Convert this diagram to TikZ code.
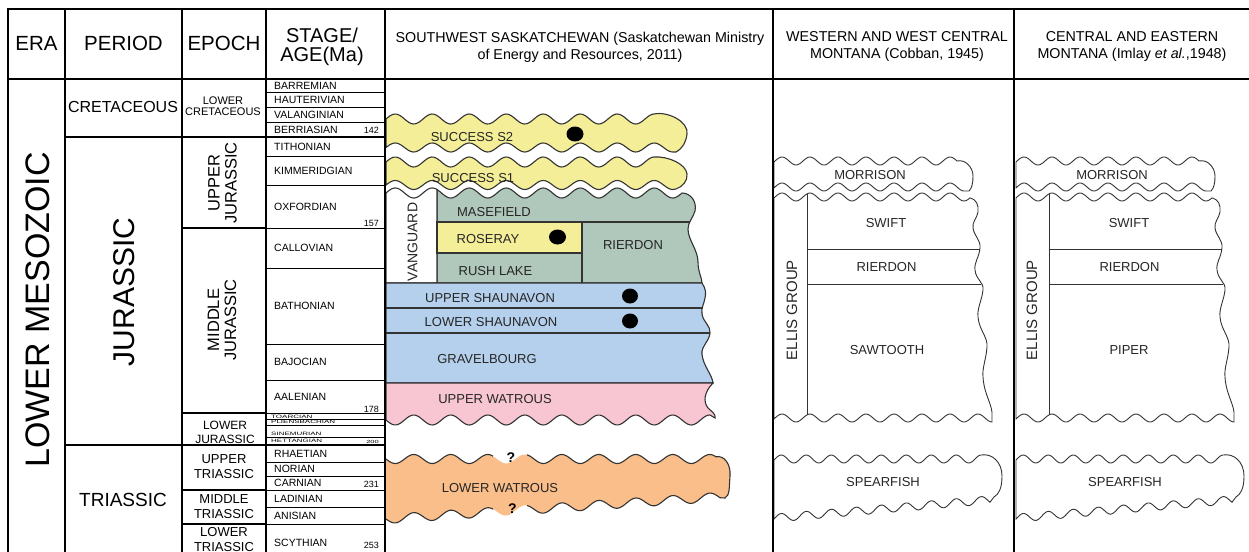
\documentclass[tikz,border=0pt]{standalone}
\usepackage{fontspec}
\setmainfont{Liberation Sans}
\definecolor{sucyel}{RGB}{244,238,152}
\definecolor{grn}{RGB}{176,199,187}
\definecolor{blu}{RGB}{181,208,236}
\definecolor{pnk}{RGB}{248,198,210}
\definecolor{org}{RGB}{250,190,138}

\begin{document}
\begin{tikzpicture}[x=1pt,y=-1pt,samples=160,
        declare function={sw(\u)=sin(9.72973*(\u-386)); mt(\u)=sin(12.857143*(\u-775)); sp(\u)=sin(14.4*(\u-775));},
        frame/.style={line width=2.6pt},
        band/.style={draw=black!80, line width=1.1pt},
        mband/.style={draw=black!80, fill=white, line width=0.9pt},
        hd/.style={font=\fontsize{20.5}{22}\selectfont, inner sep=0pt},
        src/.style={font=\fontsize{14.3}{17}\selectfont, align=center, inner sep=0pt},
        stg/.style={font=\fontsize{10.5}{11}\selectfont, anchor=west, inner sep=0pt},
        tiny/.style={font=\fontsize{8}{8}\selectfont, anchor=west, inner sep=0pt},
        age/.style={font=\fontsize{9}{9}\selectfont, anchor=base east, inner sep=0pt},
        ep/.style={align=center, inner sep=0pt},
        fm/.style={font=\fontsize{13}{13}\selectfont, inner sep=0pt, text=black!85},
        qm/.style={font=\fontsize{14}{14}\selectfont\bfseries, inner sep=0pt}]
        \useasboundingbox (0,0) rectangle (1249,551);

        % stages
        \foreach \t/\b/\n in {79/92/BARREMIAN, 92/107/HAUTERIVIAN, 107/122/VALANGINIAN,
                122/137/BERRIASIAN, 137/156/TITHONIAN, 156/185/KIMMERIDGIAN, 185/228/OXFORDIAN,
                228/268/CALLOVIAN, 268/344/BATHONIAN, 344/380/BAJOCIAN, 380/413/AALENIAN,
                445/462/RHAETIAN, 462/476/NORIAN, 476/490/CARNIAN, 490/507/LADINIAN,
                507/524/ANISIAN, 524/562/SCYTHIAN}{
            \draw[line width=0.9pt] (266,\t) rectangle (385,\b);
            \node[stg] (st\n) at (274,{(\t+\b)/2}) {\n};
        }
        \draw[line width=0.9pt] (266,413) rectangle (385,419.5);
        \draw[line width=0.9pt] (266,419.5) rectangle (385,425);
        \draw[line width=0.9pt] (266,425) rectangle (385,437);
        \draw[line width=0.9pt] (266,437) rectangle (385,445);
        \node[tiny] (stToarcian) at (271,416.5) {\scalebox{1}[0.6]{TOARCIAN}};
        \node[tiny] (stPliens) at (271,422.3) {\scalebox{1}[0.6]{PLIENSBACHIAN}};
        \node[tiny] (stSinem) at (271,433.8) {\scalebox{1}[0.6]{SINEMURIAN}};
        \node[tiny] (stHett) at (271,441) {\scalebox{1}[0.6]{HETTANGIAN}};
        \node[age] (a142) at (379,133.5) {142};
        \node[age] (a157) at (379,226) {157};
        \node[age] (a178) at (379,412) {178};
        \node[age, font=\fontsize{7.5}{7.5}\selectfont] (a200) at (379,443.5) {\scalebox{1}[0.6]{200}};
        \node[age] (a231) at (379,487.5) {231};
        \node[age] (a253) at (379,548) {253};

        % southwest saskatchewan
        \filldraw[band, fill=sucyel] plot[domain=386:654] (\x,{119-5*sw(\x)})
            .. controls (668,111) and (689,122) .. (687,134)
            .. controls (686,142) and (683,148) .. (676,152)
            -- plot[domain=673:386] (\x,{147.5-4.5*sw(\x)}) -- cycle;
        \filldraw[band, fill=sucyel] plot[domain=386:654] (\x,{162-5*sw(\x)})
            .. controls (668,156) and (686,164) .. (687,174)
            .. controls (688,181) and (682,187) .. (676,189)
            -- plot[domain=673:386] (\x,{185-4.5*sw(\x)}) -- cycle;
        \filldraw[band, fill=grn] plot[domain=437:682] (\x,{193-5*sw(\x)})
            .. controls (691,193) and (697,202) .. (695,211)
            .. controls (693,218) and (688,222) .. (688,229)
            .. controls (688,240) and (698,250) .. (698,262)
            .. controls (698,272) and (702,278) .. (702,283)
            -- (437,283) -- cycle;
        \filldraw[band, fill=white] plot[domain=386:437] (\x,{193-5*sw(\x)}) -- (437,283) -- (386,283) -- cycle;
        \filldraw[band, fill=sucyel] (437,222) rectangle (582,253);
        \draw[band] (437,222) -- (690,222);
        \draw[band] (582,222) -- (582,283);
        \filldraw[band, fill=blu] (386,283) -- (702,283)
            .. controls (706,289) and (706,293) .. (705,298)
            .. controls (704,304) and (701,308) .. (702,314)
            .. controls (703,322) and (711,326) .. (710,333)
            .. controls (709,342) and (701,346) .. (702,354)
            .. controls (703,366) and (712,374) .. (713,383) -- (386,383) -- cycle;
        \draw[band] (386,308) -- (702,308);
        \draw[band] (386,333) -- (710,333);
        \filldraw[band, fill=pnk] (386,383) -- (713,383)
            .. controls (704,392) and (703,402) .. (708,408)
            .. controls (712,412) and (716,414) .. (715,418)
            -- plot[domain=710:386] (\x,{420+5*sw(\x)}) -- cycle;
        \fill[org] plot[domain=386:716] (\x,{459+4.5*sw(\x)})
            .. controls (724,455) and (731,464) .. (730,476)
            .. controls (729,488) and (730,495) .. (725,498)
            -- plot[domain=720:386] (\x,{519-0.066*(\x-386)+4.5*sw(\x)}) -- cycle;
        \draw[band] plot[domain=386:493] (\x,{459+4.5*sw(\x)});
        \draw[band] plot[domain=527:716] (\x,{459+4.5*sw(\x)})
            .. controls (724,455) and (731,464) .. (730,476)
            .. controls (729,488) and (730,495) .. (725,498)
            -- plot[domain=720:527] (\x,{519-0.066*(\x-386)+4.5*sw(\x)});
        \draw[band] plot[domain=493:386] (\x,{519-0.066*(\x-386)+4.5*sw(\x)});
        \fill (575,134) ellipse [x radius=8.5pt, y radius=7.5pt];
        \fill (557.5,237) ellipse [x radius=8.5pt, y radius=7.5pt];
        \fill (630,296) ellipse [x radius=8pt, y radius=7.5pt];
        \fill (630,321) ellipse [x radius=8pt, y radius=7.5pt];
        \node[fm] (lS2) at (472,137) {SUCCESS S2};
        \node[fm] (lS1) at (473,178) {SUCCESS S1};
        \node[fm, rotate=90, font=\fontsize{14}{14}\selectfont] (lVang) at (412.5,242) {VANGUARD};
        \node[fm] (lMas) at (494,212) {MASEFIELD};
        \node[fm] (lRos) at (488,239) {ROSERAY};
        \node[fm] (lRush) at (495.5,271) {RUSH LAKE};
        \node[fm] (lRier) at (633,245) {RIERDON};
        \node[fm] (lUS) at (490,298) {UPPER SHAUNAVON};
        \node[fm] (lLS) at (491,322) {LOWER SHAUNAVON};
        \node[fm] (lGrav) at (487,359) {GRAVELBOURG};
        \node[fm] (lUW) at (495,399) {UPPER WATROUS};
        \node[fm] (lLW) at (500,488) {LOWER WATROUS};
        \node[qm] (q1) at (511,457.5) {?};
        \node[qm] (q2) at (512.5,509) {?};

        % western and west central montana
        \begin{scope}
            \filldraw[mband] plot[domain=774:957] (\x,{161-4*mt(\x)})
                .. controls (966,159) and (973,168) .. (973,176)
                .. controls (973,183) and (972,188) .. (969,191)
                -- plot[domain=964:774] (\x,{187-4*mt(\x)}) -- cycle;
            \filldraw[mband] plot[domain=774:970] (\x,{197-4*mt(\x)})
                .. controls (976,199) and (979,205) .. (978,212)
                .. controls (977,218) and (972,222) .. (973,228)
                .. controls (974,236) and (981,240) .. (980,248)
                .. controls (979,258) and (974,262) .. (975,270)
                .. controls (976,280) and (984,282) .. (983,290)
                .. controls (982,300) and (977,308) .. (978,317)
                .. controls (979,330) and (988,337) .. (987,347)
                .. controls (986,360) and (982,368) .. (983,377)
                .. controls (984,395) and (993,405) .. (992,416)
                -- plot[domain=992:774] (\x,{418-4*mt(\x)}) -- cycle;
            \draw[mband] (807,194) -- (807,415);
            \draw[mband] (807,249) -- (980,249);
            \draw[mband] (807,284) -- (981,284);
            \filldraw[mband] plot[domain=774:981] (\x,{459-4*sp(\x)})
                .. controls (992,453) and (1002,462) .. (1002,476)
                .. controls (1002,488) and (999,494) .. (994,497)
                -- plot[domain=990:774] (\x,{518-0.0844*(\x-775)-4*sp(\x)}) -- cycle;
            \node[fm] (wMor) at (870,175) {MORRISON};
            \node[fm, rotate=90, font=\fontsize{15}{15}\selectfont] (wEllis) at (792,310) {ELLIS GROUP};
            \node[fm] (wSwift) at (886,223) {SWIFT};
            \node[fm] (wRier) at (886.5,267) {RIERDON};
            \node[fm] (wSaw) at (887,350) {SAWTOOTH};
            \node[fm] (wSpear) at (883,482) {SPEARFISH};
        \end{scope}

        % central and eastern montana
        \begin{scope}[xshift=242pt]
            \filldraw[mband] plot[domain=774:957] (\x,{161-4*mt(\x)})
                .. controls (966,159) and (973,168) .. (973,176)
                .. controls (973,183) and (972,188) .. (969,191)
                -- plot[domain=964:774] (\x,{187-4*mt(\x)}) -- cycle;
            \filldraw[mband] plot[domain=774:970] (\x,{197-4*mt(\x)})
                .. controls (976,199) and (979,205) .. (978,212)
                .. controls (977,218) and (972,222) .. (973,228)
                .. controls (974,236) and (981,240) .. (980,248)
                .. controls (979,258) and (974,262) .. (975,270)
                .. controls (976,280) and (984,282) .. (983,290)
                .. controls (982,300) and (977,308) .. (978,317)
                .. controls (979,330) and (988,337) .. (987,347)
                .. controls (986,360) and (982,368) .. (983,377)
                .. controls (984,395) and (993,405) .. (992,416)
                -- plot[domain=992:774] (\x,{418-4*mt(\x)}) -- cycle;
            \draw[mband] (807,194) -- (807,415);
            \draw[mband] (807,249) -- (980,249);
            \draw[mband] (807,284) -- (981,284);
            \filldraw[mband] plot[domain=774:981] (\x,{459-4*sp(\x)})
                .. controls (992,453) and (1002,462) .. (1002,476)
                .. controls (1002,488) and (999,494) .. (994,497)
                -- plot[domain=990:774] (\x,{518-0.0844*(\x-775)-4*sp(\x)}) -- cycle;
            \node[fm] (cMor) at (870,175) {MORRISON};
            \node[fm, rotate=90, font=\fontsize{15}{15}\selectfont] (cEllis) at (790,310) {ELLIS GROUP};
            \node[fm] (cSwift) at (887,223) {SWIFT};
            \node[fm] (cRier) at (887.5,267) {RIERDON};
            \node[fm] (cPiper) at (887,350) {PIPER};
            \node[fm] (cSpear) at (883,482) {SPEARFISH};
        \end{scope}

        % table frame
        \draw[line width=2pt] (65,137) -- (385,137);
        \draw[line width=2pt] (65,445) -- (385,445);
        \draw[line width=1.2pt] (182,228) -- (266,228);
        \draw[line width=1.2pt] (182,413) -- (266,413);
        \draw[line width=1.2pt] (182,490) -- (266,490);
        \draw[line width=1.2pt] (182,524) -- (266,524);
        \draw[frame] (6.7,9) -- (1255,9);
        \draw[frame] (8,79) -- (1255,79);
        \draw[frame] (8,9) -- (8,560);
        \draw[line width=1.8pt] (65,9) -- (65,560);
        \draw[line width=1.8pt] (182,9) -- (182,560);
        \draw[line width=1.8pt] (266,9) -- (266,560);
        \draw[frame] (385,9) -- (385,560);
        \draw[frame] (773,9) -- (773,560);
        \draw[frame] (1014,9) -- (1014,560);

        % headers
        \node[hd] (hEra) at (36.5,43) {ERA};
        \node[hd] (hPer) at (123.5,43) {PERIOD};
        \node[hd] (hEp) at (224,43) {EPOCH};
        \node[hd, align=center, font=\fontsize{20}{19.5}\selectfont] (hStage) at (322,47) {STAGE/\\AGE(Ma)};
        \node[src] (hSW) at (580,47) {SOUTHWEST SASKATCHEWAN (Saskatchewan Ministry\\of Energy and Resources, 2011)};
        \node[src] (hWM) at (897,46) {WESTERN AND WEST CENTRAL\\MONTANA (Cobban, 1945)};
        \node[src] (hCM) at (1132,46) {CENTRAL AND EASTERN\\MONTANA (Imlay \textit{et al.},1948)};

        % era, period, epoch
        \node[rotate=90, font=\fontsize{34}{34}\selectfont, inner sep=0pt] (eraLM) at (38,310) {LOWER MESOZOIC};
        \node[font=\fontsize{16}{16}\selectfont, inner sep=0pt] (perCret) at (123,107) {CRETACEOUS};
        \node[rotate=90, font=\fontsize{30}{30}\selectfont, inner sep=0pt] (perJur) at (124,292) {JURASSIC};
        \node[font=\fontsize{19}{19}\selectfont, inner sep=0pt] (perTri) at (123,500) {TRIASSIC};
        \node[ep, font=\fontsize{11}{11}\selectfont] (epLK) at (223,106) {LOWER\\CRETACEOUS};
        \node[ep, rotate=90, font=\fontsize{16.5}{17}\selectfont] (epUJ) at (222.5,183) {UPPER\\JURASSIC};
        \node[ep, rotate=90, font=\fontsize{16.5}{17}\selectfont] (epMJ) at (222,320) {MIDDLE\\JURASSIC};
        \node[ep, font=\fontsize{12}{14}\selectfont] (epLJ) at (225,432) {LOWER\\JURASSIC};
        \node[ep, font=\fontsize{13}{15}\selectfont] (epUT) at (224,467) {UPPER\\TRIASSIC};
        \node[ep, font=\fontsize{13}{15}\selectfont] (epMT) at (224,507) {MIDDLE\\TRIASSIC};
        \node[ep, font=\fontsize{13}{15}\selectfont] (epLT) at (224,540) {LOWER\\TRIASSIC};
\end{tikzpicture}
\end{document}
